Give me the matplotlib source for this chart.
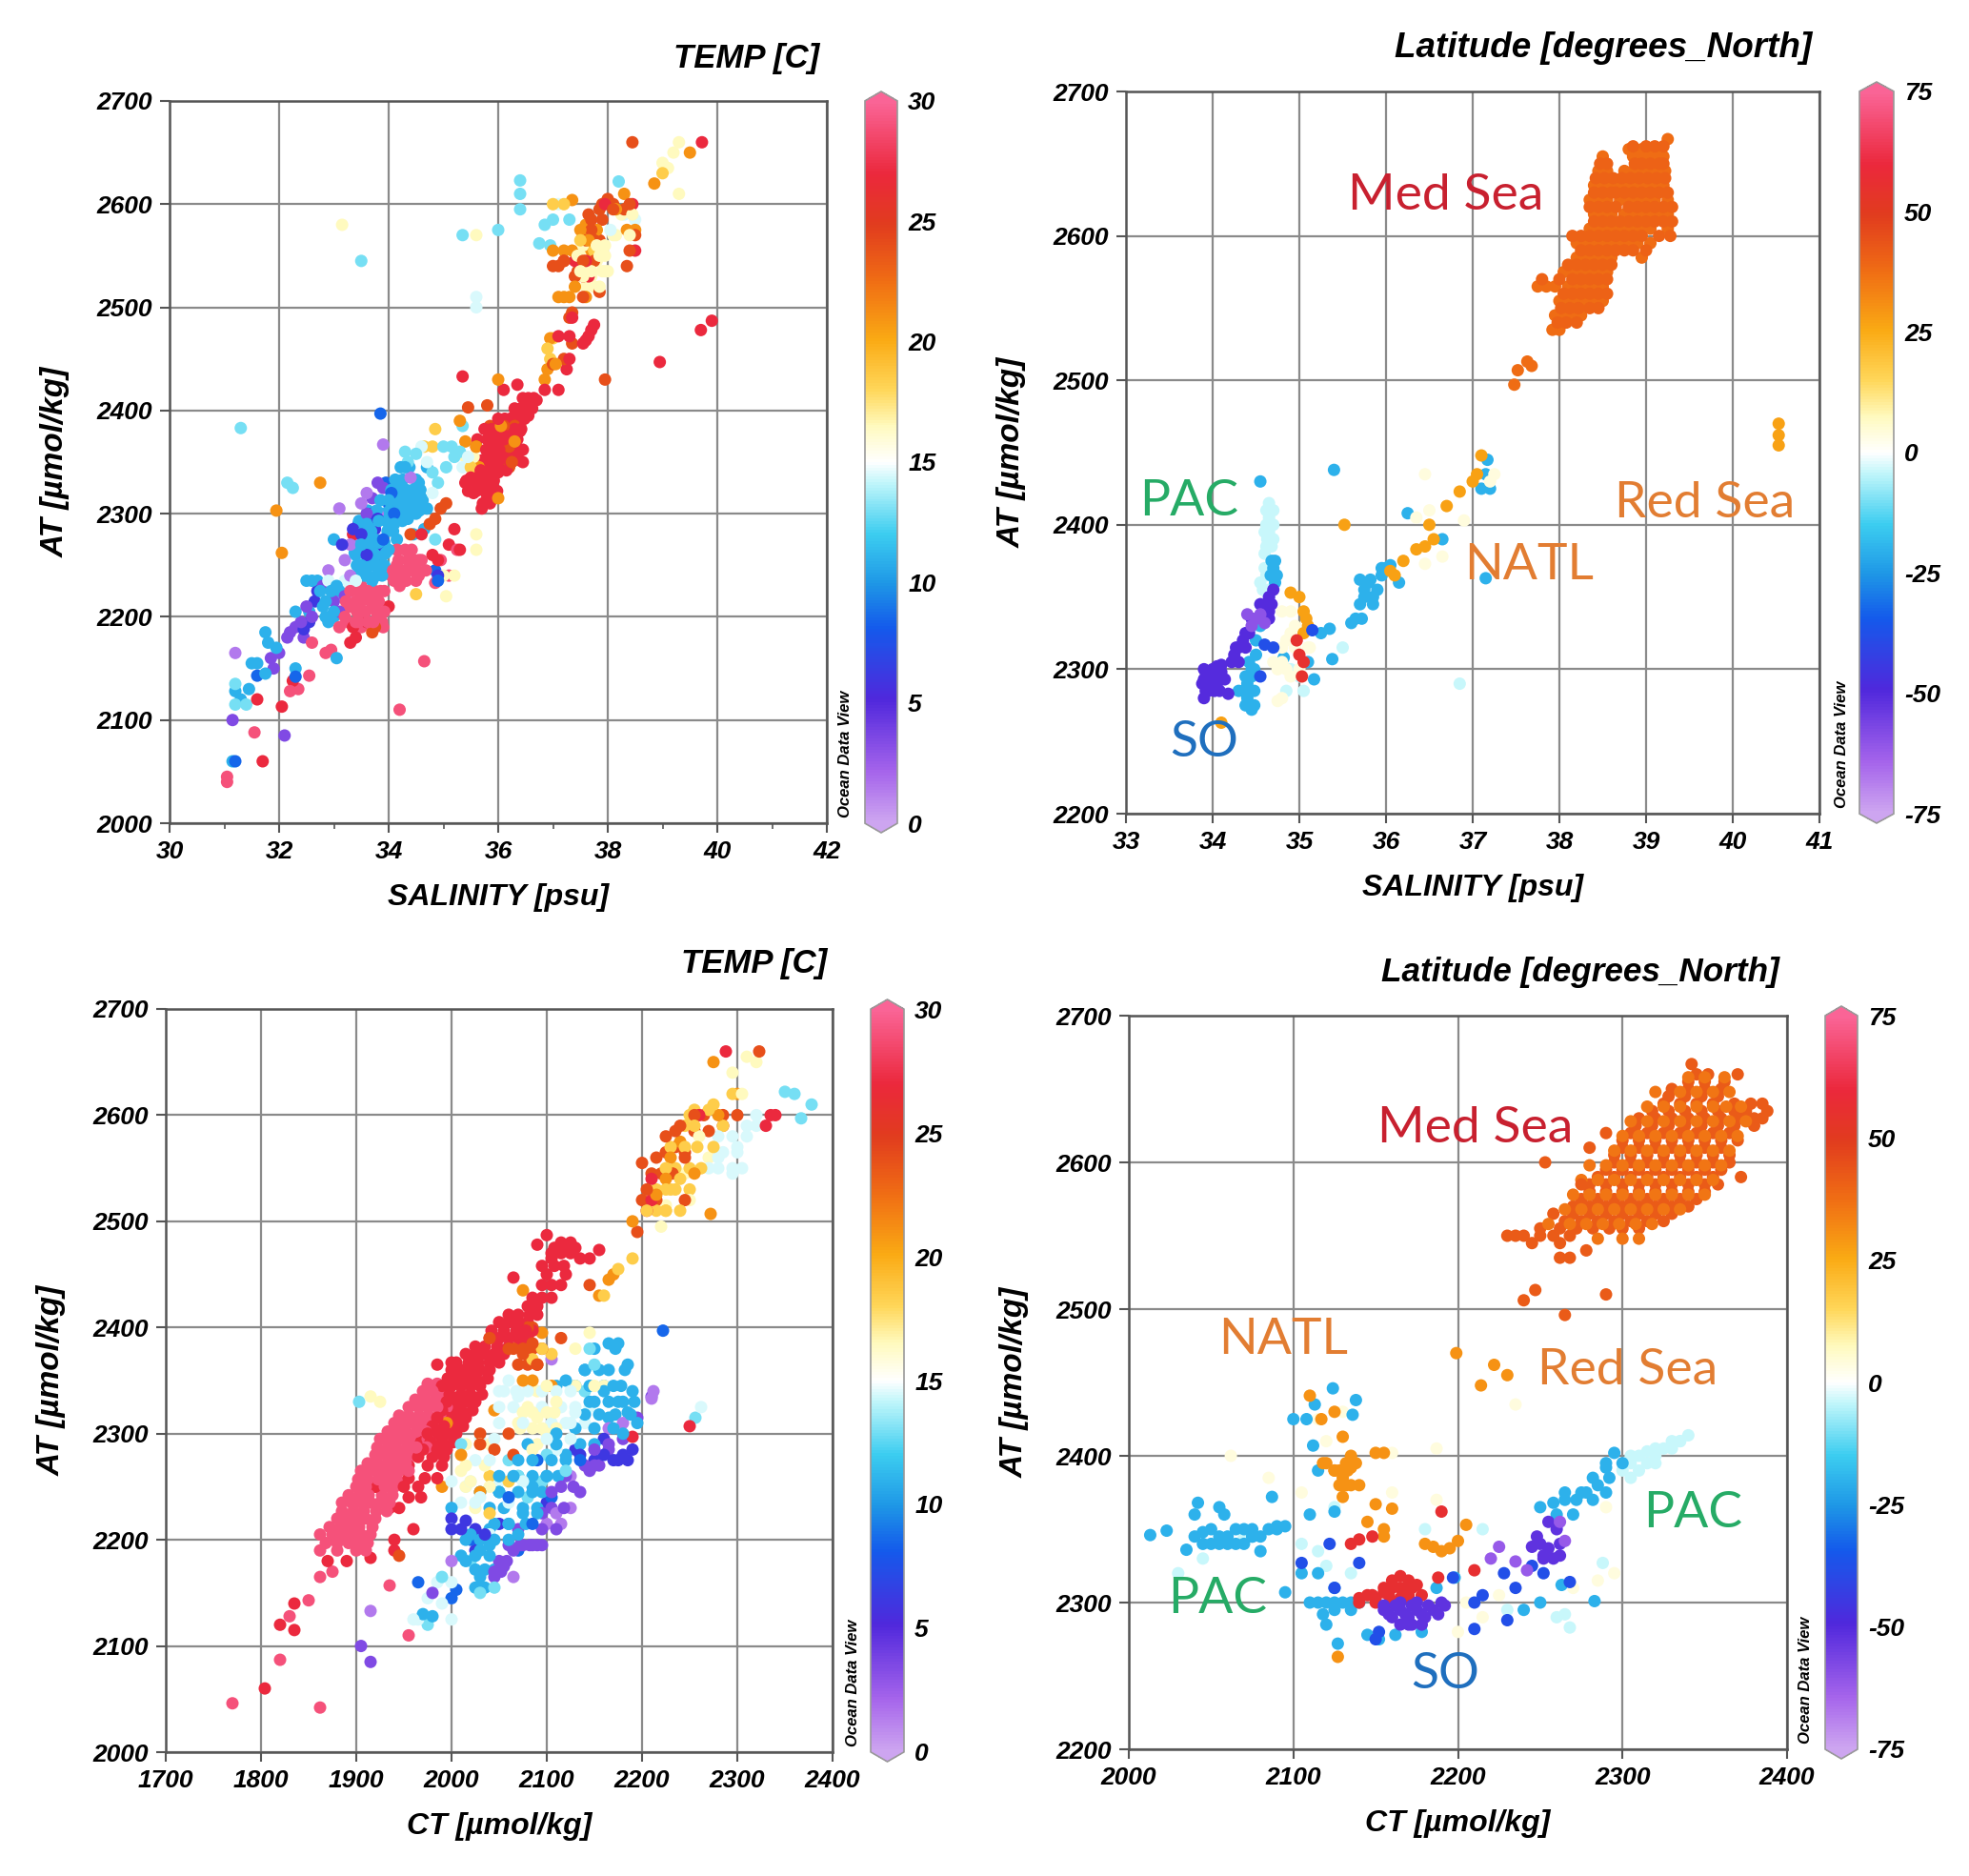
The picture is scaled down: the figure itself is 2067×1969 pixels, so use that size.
import matplotlib
matplotlib.use("Agg")
import matplotlib.pyplot as plt
from matplotlib.colors import LinearSegmentedColormap, Normalize

W, H = 2067, 1969
plt.rcParams["font.family"] = ["Liberation Sans", "DejaVu Sans"]
plt.rcParams["font.weight"] = "bold"
plt.rcParams["font.style"] = "italic"
plt.rcParams["axes.labelweight"] = "bold"
plt.rcParams["axes.unicode_minus"] = False

odv = LinearSegmentedColormap.from_list("odv", [
    (0.00, (205/255, 165/255, 240/255)), (0.07, (165/255, 100/255, 235/255)),
    (0.17, (80/255, 40/255, 220/255)), (0.27, (20/255, 90/255, 235/255)),
    (0.33, (30/255, 150/255, 230/255)), (0.40, (60/255, 205/255, 240/255)),
    (0.47, (190/255, 245/255, 250/255)), (0.50, (1, 1, 1)),
    (0.55, (1, 250/255, 190/255)), (0.60, (1, 215/255, 90/255)),
    (0.67, (250/255, 170/255, 20/255)), (0.75, (240/255, 110/255, 20/255)),
    (0.83, (225/255, 60/255, 30/255)), (0.90, (235/255, 40/255, 60/255)),
    (1.00, (250/255, 100/255, 150/255))], N=256)


def rows(table):
    return [(x, at) for at, xs in table.items() for x in xs]


# top left: salinity / AT coloured by temperature
a_lilac = [(31.2,2165),(33.1,2305),(33.9,2367),(33.3,2270),(33.2,2255),(33.3,2240),(33.4,2280),(32.9,2245),(32.7,2225),(33.5,2310),(33.6,2320),(33.8,2300),(34.4,2335)]
a_purple = [(31.15,2100),(32.1,2085),(31.9,2150),(32.0,2165),(31.85,2160),(32.2,2185),(32.4,2195),(32.3,2190),(32.5,2210),(32.6,2200),(33.0,2215),(33.2,2220),(33.1,2205),(33.7,2315),(33.8,2330),(33.9,2325),(33.5,2285),(33.6,2300),(32.8,2230),(32.15,2180),(32.45,2180)]
a_indigo = [(32.45,2188),(32.55,2195),(32.65,2215),(33.15,2270),(33.35,2285),(33.45,2290),(33.5,2280),(33.75,2285),(33.85,2270),(33.8,2295),(34.9,2240),(32.7,2225),(33.6,2260)]
a_blue = [(33.85,2397),(31.2,2060),(31.6,2143),(32.3,2142),(34.85,2245),(34.9,2235),(33.7,2300),(33.95,2330),(34.0,2310),(33.9,2275),(33.75,2255),(34.05,2320),(34.1,2300)]
a_sky = [(31.2,2128),(31.45,2130),(31.15,2060),(31.3,2120),(31.5,2155),(31.6,2155),(31.75,2145),(32.3,2150),(31.75,2185),(31.8,2175),(31.95,2170),(32.6,2235),(32.5,2235),(32.7,2235),(32.3,2205),(32.55,2205),(32.8,2210),(32.9,2195),(32.85,2215),(33.0,2205),(33.05,2230),(33.0,2275),(33.4,2260),(33.5,2250),(33.6,2240),(33.7,2235),(33.5,2270),(33.65,2280),(33.75,2260),(33.85,2245),(33.9,2260),(34.0,2265),(34.1,2290),(34.2,2300),(34.3,2310),(34.4,2320),(34.5,2300),(34.25,2325),(34.3,2345),(34.55,2330),(34.6,2315),(34.7,2305),(34.45,2280),(34.65,2285),(34.15,2275),(33.6,2290),(33.9,2300),(34.0,2285),(34.35,2295),(33.45,2240),(33.75,2275),(33.05,2160)]
a_sky_fill = rows({2240:[33.45,33.55,33.62,33.78,33.88],2250:[33.42,33.58,33.68,33.8,33.92],2262:[33.38,33.52,33.63,33.72,33.83,33.95],2272:[33.48,33.6,33.7,33.82,33.92],2283:[33.55,33.68,33.98,34.08],2293:[33.46,33.7,33.82,33.96,34.12,34.25],2303:[33.62,33.78,34.02,34.18,34.28,34.42,34.56],2313:[33.85,34.0,34.12,34.25,34.36,34.48,34.62],2323:[34.05,34.18,34.32,34.44,34.58],2333:[34.12,34.26,34.5],2345:[34.22,34.38,34.7],2225:[32.75,32.95,33.1],2200:[32.85,32.95,33.0]})
a_cyan = [(31.3,2383),(33.5,2545),(36.4,2623),(36.4,2610),(36.4,2595),(35.35,2570),(36.0,2575),(36.95,2560),(36.75,2562),(36.85,2580),(37.0,2585),(37.3,2585),(38.2,2622),(32.15,2330),(32.25,2325),(34.3,2360),(35.0,2365),(35.15,2365),(35.35,2385),(34.8,2340),(35.05,2345),(31.2,2115),(31.4,2115),(31.2,2135),(34.85,2275),(34.35,2350),(34.5,2358),(35.2,2355),(35.3,2360),(34.9,2330)]
a_pale = [(35.6,2510),(35.6,2500),(32.9,2235),(33.2,2235),(33.4,2235),(34.8,2320),(34.7,2350),(34.6,2365),(37.7,2590),(37.1,2600),(37.7,2560),(38.05,2575),(38.3,2590),(38.5,2585),(35.35,2345),(35.45,2355)]
a_cream = [(39.0,2640),(39.2,2650),(39.3,2610),(39.1,2635),(39.3,2660),(37.6,2540),(37.7,2530),(37.5,2550),(37.8,2545),(37.9,2535),(37.85,2520),(37.55,2530),(35.6,2280),(35.6,2265),(35.6,2570),(35.05,2220),(35.0,2240),(33.15,2580),(35.2,2240)]
a_cream_fill = rows({2550:[37.45,37.65,37.85,37.95],2535:[37.5,37.7,37.95,38.0],2560:[37.55,37.8,37.95],2520:[37.6,37.75],2570:[38.1,38.15,38.4],2590:[38.25,38.45],2355:[35.4,35.55]})
a_yellow = [(34.85,2382),(34.65,2365),(34.8,2365),(35.5,2345),(35.6,2330),(37.2,2600),(37.0,2600),(39.0,2630),(37.5,2565),(34.5,2222),(37.0,2470),(36.9,2460),(36.95,2450),(37.75,2555)]
a_orange = [(32.75,2330),(31.95,2303),(32.05,2262),(37.35,2604),(39.5,2650),(38.85,2620),(38.3,2610),(37.6,2580),(37.65,2565),(37.55,2570),(36.9,2440),(36.85,2430),(37.05,2445),(36.95,2470),(36.0,2430),(35.65,2345),(35.6,2365),(35.4,2370),(35.3,2390),(36.4,2385),(36.05,2385),(36.3,2370),(36.0,2315),(37.4,2520),(37.3,2510)]
a_orange_fill = rows({2575:[37.5,37.62,37.8,38.35,38.5],2555:[37.0,37.2,37.35,37.62],2595:[38.15,38.4],2510:[37.1,37.2,37.6]})
a_red_orange = [(38.45,2660),(37.95,2430),(37.1,2540),(35.45,2403),(35.8,2405),(34.75,2290),(34.85,2295),(34.95,2305),(35.05,2310),(34.4,2280),(37.35,2495),(37.3,2490),(37.0,2540),(37.65,2590),(37.7,2575),(37.9,2600),(38.0,2605),(38.1,2600),(38.4,2600),(38.5,2570),(38.4,2555),(38.35,2540),(37.85,2515),(37.45,2535),(37.2,2545),(37.55,2510),(37.35,2465),(37.2,2450),(37.0,2445),(33.7,2185),(33.75,2190),(36.2,2345)]
a_red_orange_fill = rows({2530:[37.4,37.55],2545:[37.2,37.55,37.75],2565:[37.6,37.75,37.85],2585:[37.7,37.9],2595:[37.85,38.1,38.3],2385:[35.85,36.1,36.3],2365:[35.6,36.2],2350:[36.25]})
a_pink = [(31.05,2045),(31.05,2040),(31.55,2088),(34.2,2110),(34.65,2157),(32.2,2128),(32.35,2130),(32.55,2143),(32.85,2165),(32.95,2168),(32.6,2175),(33.1,2190),(33.2,2200),(33.3,2210),(33.4,2215),(33.5,2205),(33.6,2220),(33.7,2210),(33.8,2200),(33.5,2190),(33.85,2225),(33.4,2195),(33.3,2225),(33.9,2190),(34.05,2240),(34.15,2250),(34.25,2240),(34.35,2255),(34.45,2245),(34.55,2240),(34.2,2230),(34.6,2255),(34.3,2265),(34.85,2233),(34.95,2255),(35.1,2240),(35.25,2265),(33.5,2230)]
a_pink_fill = rows({2195:[33.25,33.45,33.62,33.72,33.88],2205:[33.15,33.42,33.58,33.78,33.92],2215:[33.22,33.5,33.68,33.82],2225:[33.45,33.62,33.75,33.92],2235:[34.1,34.32,34.5],2245:[34.08,34.28,34.38,34.52,34.68],2255:[34.18,34.45,34.55],2265:[34.15,34.42]})
a_red = [(39.72,2660),(39.9,2487),(39.7,2478),(38.95,2447),(35.35,2433),(36.35,2425),(36.1,2420),(36.45,2400),(36.5,2410),(36.55,2395),(36.6,2405),(36.7,2410),(36.4,2380),(36.3,2395),(36.1,2390),(36.15,2375),(36.05,2370),(35.95,2360),(35.85,2350),(35.75,2340),(35.65,2325),(35.5,2335),(35.55,2320),(35.4,2330),(36.1,2350),(36.3,2355),(36.45,2350),(35.9,2330),(35.8,2315),(36.0,2340),(35.7,2305),(35.85,2375),(37.75,2483),(37.7,2478),(37.65,2472),(37.6,2468),(37.55,2465),(37.3,2450),(37.25,2440),(37.1,2420),(36.85,2420),(37.1,2472),(37.3,2472),(37.35,2490),(38.5,2555),(38.45,2600),(33.35,2280),(31.6,2120),(31.7,2060),(32.05,2113),(32.25,2138),(34.0,2210),(33.4,2180),(33.35,2190),(33.6,2195),(33.3,2175),(35.2,2285),(35.1,2270),(35.3,2265),(34.9,2255),(34.8,2260),(34.6,2280),(37.6,2545),(37.4,2545),(37.65,2530),(37.95,2600)]
a_red_fill = rows({2310:[35.72,35.85],2322:[35.45,35.6,35.75,35.9,35.98],2332:[35.42,35.52,35.62,35.72,35.82,35.92],2342:[35.58,35.68,35.8,35.9,36.02,36.15],2352:[35.72,35.85,35.98,36.08,36.2,36.38],2362:[35.78,35.92,36.02,36.12,36.22,36.36,36.45],2372:[35.62,35.8,35.9,36.0,36.1,36.25,36.35],2382:[35.75,35.88,35.98,36.08,36.18,36.3,36.42],2392:[36.0,36.12,36.22,36.35,36.48],2402:[36.3,36.42,36.55,36.62],2412:[36.45,36.55,36.65]})
a_groups = [(1.5,a_lilac),(3.5,a_purple),(11,a_sky),(11,a_sky_fill),(6,a_indigo),(8.5,a_blue),(13,a_cyan),(14.5,a_pale),(29,a_pink),(29,a_pink_fill),(27,a_red),(27,a_red_fill),(24,a_red_orange),(24,a_red_orange_fill),(21,a_orange),(21,a_orange_fill),(18.5,a_yellow),(16.5,a_cream),(16.5,a_cream_fill)]

# top right: salinity / AT coloured by latitude
b_med = rows({2535:[37.92,38.0],2545:[37.95,38.05,38.15,38.25],2555:[38.0,38.1,38.2,38.3,38.4,38.5],2565:[37.75,37.85,37.95,38.1,38.2,38.3,38.4,38.5],
    2575:[38.05,38.15,38.25,38.35,38.45,38.55],2585:[38.2,38.3,38.4,38.5,38.6,38.95],2595:[38.2,38.3,38.4,38.5,38.6,38.7,38.8,38.9,39.05],
    2605:[38.35,38.45,38.55,38.65,38.75,38.85,38.95,39.05,39.25],2615:[38.4,38.5,38.6,38.75,38.85,38.95,39.05,39.15,39.25],
    2625:[38.35,38.45,38.55,38.7,38.8,38.9,39.0,39.1,39.25],2635:[38.4,38.5,38.6,38.7,38.8,38.9,39.0,39.1,39.2],
    2645:[38.45,38.55,38.75,38.85,38.95,39.05,39.15,39.22],2655:[38.5,38.85,38.95,39.05,39.15,39.2],2660:[38.8,38.95,39.1],2667:[39.25]})
b_med2 = rows({2540:[37.98,38.08,38.2],2550:[38.02,38.12,38.22,38.35,38.45],2560:[38.05,38.15,38.25,38.35,38.45,38.55],2570:[37.8,38.0,38.15,38.25,38.35,38.45,38.55],2580:[38.1,38.2,38.3,38.4,38.5,38.6],2590:[38.25,38.35,38.45,38.55,38.65,38.75,38.85,39.0],2600:[38.15,38.25,38.35,38.45,38.55,38.65,38.75,38.85,38.95,39.15,39.28],2610:[38.4,38.5,38.6,38.7,38.8,38.9,39.0,39.1,39.2,39.3],2620:[38.35,38.45,38.55,38.65,38.8,38.9,39.0,39.1,39.2,39.3],2630:[38.4,38.5,38.6,38.65,38.75,38.85,38.95,39.05,39.15,39.25],2640:[38.42,38.52,38.62,38.72,38.82,38.92,39.02,39.12,39.22],2650:[38.47,38.55,38.87,38.95,39.05,39.15,39.2],2662:[38.85,39.0,39.1,39.2]})
b_med_out = [(37.48,2497),(37.52,2507),(37.63,2513),(37.68,2510)]
b_spike = [(34.65,2415),(34.65,2405),(34.65,2395),(34.68,2385),(34.6,2380),(34.7,2375),(34.62,2365),(34.65,2350),(34.6,2340),(34.7,2400),(34.6,2395)]
b_spike2 = rows({2410:[34.62,34.7],2400:[34.62,34.68],2390:[34.63,34.7],2370:[34.6,34.68],2355:[34.58,34.65],2345:[34.55,34.62],2330:[34.5]})
b_cyan = [(34.55,2430),(35.4,2438),(34.4,2290),(34.4,2280),(34.45,2272),(34.35,2285),(34.45,2295),(34.42,2305),(34.5,2320),(34.5,2310),(34.55,2330),(34.7,2370),(34.72,2360),(35.25,2325),(35.35,2328),(35.6,2332),(35.7,2345),(35.75,2355),(35.8,2360),(35.85,2345),(35.9,2355),(35.95,2365),(36.0,2370),(36.05,2372),(36.15,2360),(36.25,2408),(36.65,2390),(37.15,2363),(37.1,2425),(37.2,2425),(37.15,2435),(37.17,2445),(35.38,2307),(35.17,2293),(35.1,2305),(34.82,2308)]
b_cyan2 = rows({2375:[34.68,34.72],2365:[34.67,34.74],2275:[34.38,34.42,34.48],2285:[34.3,34.42,34.48],2295:[34.38,34.42],2300:[34.45,34.48],2335:[35.65,35.72],2350:[35.75,35.85],2362:[35.7,35.82],2370:[35.95,36.0]})
b_pale = [(36.85,2290),(35.5,2315),(35.05,2285),(34.85,2285),(34.9,2300),(35.0,2295),(34.55,2360),(34.62,2385)]
b_cream = [(36.45,2435),(36.45,2373),(36.65,2378),(36.9,2403),(37.2,2430),(37.25,2435),(36.35,2405),(34.8,2280),(34.75,2278),(34.9,2295),(34.8,2305),(34.85,2320),(34.95,2330),(35.1,2315),(34.7,2305),(36.5,2410)]
b_cream2 = rows({2300:[34.75,34.85,35.0],2315:[34.8,34.95,35.12],2325:[34.9,35.05],2340:[34.8,34.9]})
b_indigo = [(33.9,2300),(33.95,2295),(34.0,2300),(34.05,2290),(34.1,2295),(34.1,2303),(33.95,2285),(33.9,2280),(34.0,2290),(33.88,2290),(34.05,2302),(34.18,2283),(34.25,2310),(34.3,2315),(34.35,2320),(34.4,2325),(34.45,2335),(34.65,2340),(34.7,2355),(34.65,2350)]
b_indigo2 = rows({2285:[33.92,34.02,34.08],2293:[33.9,33.98,34.08,34.14],2298:[33.92,34.02,34.1],2305:[34.22,34.3],2315:[34.27,34.38],2325:[34.38,34.42],2345:[34.55,34.62,34.68],2335:[34.62,34.65]})
b_purple = [(34.4,2338),(34.45,2330),(34.5,2335),(34.55,2338),(34.6,2332)]
b_blue = [(34.55,2295),(34.6,2317),(34.7,2315),(35.15,2327)]
b_red = [(34.97,2320),(35.0,2310),(35.05,2305),(35.03,2295)]
b_orange = [(35.05,2340),(35.08,2335),(35.1,2330),(35.05,2325),(34.9,2353),(35.0,2350),(35.52,2400),(37.1,2448),(37.0,2430),(37.05,2435),(36.85,2423),(36.7,2413),(36.5,2400),(36.55,2390),(36.45,2385),(36.35,2383),(36.2,2375),(36.1,2365),(36.05,2368),(40.53,2470),(40.53,2462),(40.53,2455),(34.1,2263)]
b_groups = [(-4,b_pale),(-4,b_spike),(-4,b_spike2),(-20,b_cyan),(-20,b_cyan2),(4,b_cream),(4,b_cream2),(27,b_orange),(-50,b_indigo),(-50,b_indigo2),(-60,b_purple),(-38,b_blue),(55,b_red),(38,b_med),(40,b_med2),(38,b_med_out)]

# bottom left: CT / AT coloured by temperature
c_pink = rows({2190:[1862,1880,1900,1910],2205:[1862,1875,1885,1895,1905,1915],2220:[1880,1890,1900,1910,1920],2235:[1885,1895,1905,1915,1925,1935],
    2250:[1900,1910,1920,1930,1940],2265:[1905,1915,1925,1935,1945,1955],2280:[1920,1930,1940,1950,1960],2295:[1925,1935,1945,1955,1965,1975],
    2310:[1940,1950,1960,1970,1980],2325:[1955,1965,1975,1985,1995],2340:[1970,1980,1990]})
c_pink2 = rows({2197:[1868,1880,1892,1902,1912],2212:[1872,1883,1893,1903,1917],2227:[1885,1897,1908,1921,1932],2242:[1892,1903,1913,1927,1938],2257:[1902,1912,1923,1933,1943],2272:[1912,1922,1933,1943,1952],2287:[1922,1933,1942,1953,1963,1974],2302:[1933,1943,1952,1963,1973,1983],2317:[1945,1955,1966,1976,1988],2332:[1962,1972,1983,1993],2347:[1975,1985]})
c_pink_out = [(1770,2046),(1862,2042),(1820,2087),(1955,2110),(1935,2157),(1850,2143),(1830,2128),(1862,2165),(1875,2170)]
c_red = rows({2230:[1935,1945],2250:[1950,1965,1920],2270:[1955,1975,1990],2285:[1960,1970,1985,1995],2300:[1975,1985,1995,2005],2315:[1985,1995,2005,2015],
    2330:[1995,2005,2015,2025],2345:[1990,2000,2010,2020,2030],2360:[2000,2010,2020,2030,2040],2375:[2015,2025,2035,2045,2055],2390:[2040,2050,2060,2070,2080],
    2405:[2050,2060,2070,2080],2420:[2080,2090],2440:[2095,2105,2115],2450:[2100,2120],2470:[2105,2115,2125],2480:[2115,2125],2465:[2105,2135,2145]})
c_red2 = rows({2240:[1955,1968],2258:[1955,1972,1985],2278:[1965,1980,1992],2292:[1968,1978,1990,2002],2307:[1980,1992,2002,2012],2322:[1990,2000,2010,2022],2337:[1998,2010,2020,2032],2352:[1996,2006,2016,2026,2038],2367:[2005,2018,2028,2040,2050],2382:[2025,2035,2048,2060,2072],2397:[2042,2055,2068,2078,2085],2412:[2060,2070,2082,2090],2428:[2085,2095,2105],2458:[2095,2108,2118],2475:[2108,2118,2130]})
c_red_out = [(1804,2060),(1835,2115),(1835,2140),(1820,2120),(1960,2210),(1915,2183),(1940,2190),(2250,2307),(2288,2660),(2340,2600),(2335,2600),(2330,2590),(2260,2600),(2190,2297),(2155,2473),(2090,2478),(2100,2487),(2065,2447),(1985,2365),(2000,2367),(1870,2180),(1890,2180),(1940,2200),(2210,2540),(2210,2520),(2205,2510)]
c_red_orange = [(2323,2660),(2040,2390),(2060,2300),(2030,2300),(1945,2185),(2090,2365),(2085,2385),(2060,2380),(2075,2375),(2115,2390),(2145,2440),(2045,2285),(2065,2280),(2245,2520),(2255,2600),(2240,2590),(2225,2580),(2215,2560),(2200,2555),(2205,2530),(2195,2490),(2235,2570),(2285,2590),(2220,2545),(2245,2560)]
c_red_orange2 = rows({2520:[2200,2215],2545:[2210,2232],2565:[2225,2245],2585:[2235,2255,2270],2600:[2265,2285,2300],2380:[2065,2075,2085,2095],2365:[2070,2080,2090],2400:[2080,2085],2290:[2030]})
c_orange = [(2275,2650),(2272,2507),(2045,2322),(2075,2435),(2155,2430),(2165,2445),(2170,2450),(2095,2395),(2085,2350),(2105,2345),(2075,2350),(2010,2280),(1990,2250),(1995,2310),(2030,2245),(2190,2500),(2215,2525),(2225,2540),(2230,2560),(2240,2575),(2255,2545),(2300,2620),(2280,2600)]
c_gold = [(2160,2430),(2175,2455),(2190,2465),(2095,2380),(2085,2370),(2105,2375),(2040,2225),(2040,2260),(2060,2255),(2225,2510),(2230,2530),(2240,2540),(2250,2600),(2275,2610),(2295,2620)]
c_gold2 = rows({2510:[2205,2215,2225,2240],2530:[2215,2225,2235,2250],2550:[2225,2235,2250,2262],2570:[2230,2245,2258,2275],2590:[2245,2255,2285],2605:[2255,2270]})
c_cream = [(1915,2335),(1925,2330),(2080,2325),(2090,2315),(2100,2300),(2070,2310),(2090,2340),(2110,2330),(2085,2285),(2010,2265),(2020,2255),(2040,2290),(2160,2345),(2295,2640),(2310,2655),(2320,2650),(2305,2620),(2260,2580),(2270,2560),(2250,2520),(2225,2515),(2220,2495),(2245,2545),(2145,2395),(2130,2380)]
c_cream2 = rows({2320:[2075,2085,2100,2108],2305:[2072,2085,2095,2110],2290:[2015,2030,2090],2270:[2015,2035],2250:[2040,2015],2345:[2100,2150,2130],2230:[2025]})
c_pale = [(2060,2350),(2070,2335),(2050,2340),(2120,2310),(2130,2320),(2110,2285),(2015,2250),(2000,2210),(1965,2125),(1990,2140),(2280,2560),(2295,2545),(2300,2570),(2310,2590),(2280,2580),(2320,2600),(2262,2325),(2030,2240),(2040,2205)]
c_pale2 = rows({2340:[2055,2068,2080,2095,2110,2125],2325:[2050,2065,2095,2115,2130,2145],2310:[2050,2075,2105,2125,2140],2295:[2030,2045,2100,2125],2275:[2025,2040,2090],2255:[2000,2020,2050,2075],2235:[2010,2025,2060],2160:[1985,2000],2145:[1975,2000],2125:[2000,1960],2550:[2280,2295,2305,2270],2565:[2285,2300],2580:[2295,2310],2590:[2320]})
c_cyan = [(1903,2330),(2350,2622),(2360,2620),(2378,2610),(2367,2597),(2256,2315),(2145,2380),(2140,2340),(2150,2365),(2010,2290),(2060,2275),(2070,2260),(2100,2280),(1975,2120),(1990,2165),(2020,2180),(2030,2150),(2045,2155),(2080,2240),(2095,2255),(2120,2265)]
c_sky = [(2165,2385),(2175,2385),(2185,2365),(2170,2345),(2155,2360),(2145,2330),(2160,2340),(2175,2330),(2185,2320),(2190,2340),(2165,2315),(2180,2300),(2195,2310),(2140,2360),(2120,2350),(2110,2345),(2070,2260),(2050,2245),(2060,2215),(2075,2225),(2085,2250),(2030,2165),(2030,2155),(2040,2195),(2020,2205),(2015,2180),(2030,2190),(1970,2130),(1980,2128),(2000,2230),(2120,2280),(2100,2260),(2090,2225),(2040,2210),(2070,2205),(2110,2300)]
c_sky2 = rows({2380:[2150,2172],2360:[2140,2165,2182],2345:[2130,2145,2160,2178],2330:[2150,2165,2180,2192],2318:[2140,2155,2172,2188],2305:[2130,2150,2170],2290:[2080,2110,2135,2150],2275:[2070,2085,2105,2120],2260:[2050,2065,2085,2100,2112],2245:[2030,2050,2070,2085,2095],2230:[2040,2055,2075,2090],2215:[2045,2060,2078],2200:[2015,2030,2045,2060],2185:[2010,2025,2040],2172:[2025,2035,2045],2155:[2025,2035]})
c_blue = [(2222,2397),(1965,2160),(2000,2145),(2005,2153),(2105,2240),(2060,2240),(2085,2215),(2070,2190),(2020,2200),(2135,2275),(2090,2275)]
c_indigo = [(2000,2220),(2015,2218),(2025,2190),(2035,2205),(2050,2215),(2130,2285),(2150,2275),(2170,2275),(2190,2285),(2100,2235),(2160,2295),(2180,2280)]
c_indigo2 = rows({2210:[2000,2010,2025],2200:[2025],2280:[2135,2160],2275:[2175,2185]})
c_purple = [(1905,2100),(1915,2085),(1980,2150),(2045,2165),(2055,2175),(2065,2190),(2075,2195),(2085,2195),(2095,2195),(2105,2245),(2120,2260),(2135,2245),(2150,2270),(2165,2290),(2180,2295),(2195,2315),(2210,2335),(2145,2265),(2095,2225),(2070,2210)]
c_purple2 = rows({2195:[2060,2072,2082,2090],2210:[2095,2110],2230:[2105,2118],2250:[2115,2128],2270:[2140,2155],2285:[2150,2165],2180:[2050,2058],2170:[2045,2052]})
c_lilac = [(1915,2133),(2000,2180),(2065,2165),(2115,2215),(2110,2225),(2125,2230),(2100,2215),(2212,2340),(2210,2333),(2105,2370),(2125,2260),(2165,2305),(2180,2310)]
c_groups = [(1.5,c_lilac),(3.5,c_purple),(3.5,c_purple2),(11,c_sky),(11,c_sky2),(13,c_cyan),(14.5,c_pale),(14.5,c_pale2),(6,c_indigo),(6,c_indigo2),(8.5,c_blue),(16.5,c_cream),(16.5,c_cream2),(27,c_red2),(29,c_pink),(29,c_pink2),(29,c_pink_out),(27,c_red),(27,c_red_out),(24,c_red_orange),(24,c_red_orange2),(21,c_orange),(18.5,c_gold),(18.5,c_gold2)]

# bottom right: CT / AT coloured by latitude
d_med = rows({2535:[2262,2268],2540:[2278],2550:[2230,2235,2240,2250,2258,2268],2560:[2265,2275,2285,2295,2305,2315,2325],2570:[2270,2280,2290,2300,2310,2320,2330,2340],
    2580:[2280,2290,2300,2310,2320,2330,2340,2350],2590:[2285,2295,2305,2315,2325,2335,2345,2355,2372],2600:[2295,2305,2315,2325,2335,2345,2355,2365],
    2610:[2300,2310,2320,2330,2340,2350,2360,2280],2620:[2305,2315,2325,2335,2345,2355,2365,2290],2630:[2310,2320,2330,2340,2350,2360,2370,2385,2380],
    2640:[2325,2335,2345,2355,2368,2378,2385],2650:[2330,2340,2350,2360],2660:[2345,2352,2370],2667:[2342]})
d_med2 = rows({2545:[2245,2262],2555:[2250,2262,2272,2282,2292,2300,2310],2565:[2258,2270,2280,2290,2300,2310,2320,2330],2575:[2275,2285,2295,2305,2315,2325,2335,2345],2585:[2280,2290,2300,2310,2320,2330,2340,2350,2358],2595:[2290,2300,2310,2320,2330,2340,2350,2360],2605:[2295,2305,2315,2325,2335,2345,2355,2365],2615:[2300,2310,2320,2330,2340,2350,2360,2370],2625:[2308,2318,2328,2338,2348,2358,2368,2380],2635:[2318,2328,2338,2348,2358,2368,2375,2388],2645:[2328,2338,2348,2358],2655:[2340,2350,2362]})
d_med3 = rows({2548:[2285,2300,2310],2558:[2255,2268,2278,2288,2298,2308,2318],2568:[2265,2275,2285,2295,2305,2315,2325,2335],2578:[2270,2280,2290,2300,2310,2320,2330,2340,2350],2588:[2275,2285,2295,2305,2315,2325,2335,2345,2355],2598:[2280,2290,2300,2310,2320,2330,2340,2350,2360],2608:[2295,2305,2315,2325,2335,2345,2355,2365],2618:[2300,2310,2320,2330,2340,2350,2360,2370],2628:[2305,2315,2325,2335,2345,2355,2365,2375],2638:[2315,2325,2335,2345,2355,2363,2372],2648:[2320,2335,2345,2355,2365],2658:[2340,2350,2362]})
d_med_out = [(2240,2506),(2247,2513),(2265,2496),(2290,2510),(2253,2600),(2275,2585)]
d_red = [(2140,2303),(2145,2305),(2150,2303),(2155,2307),(2160,2310),(2165,2303),(2170,2305),(2175,2312),(2165,2318),(2172,2300),(2188,2317),(2190,2362),(2210,2322),(2135,2340),(2140,2343),(2148,2345)]
d_red2 = rows({2300:[2140,2150,2160],2305:[2148,2158,2168,2178],2310:[2155,2165,2172],2315:[2160,2170]})
d_orange = [(2199,2470),(2222,2462),(2230,2455),(2214,2448),(2110,2441),(2125,2430),(2130,2413),(2117,2425),(2118,2395),(2125,2390),(2130,2385),(2135,2392),(2130,2380),(2135,2400),(2140,2380),(2150,2402),(2155,2402),(2130,2372),(2150,2367),(2160,2364),(2145,2355),(2155,2350),(2185,2338),(2190,2335),(2195,2337),(2200,2342),(2205,2353),(2180,2340),(2127,2263),(2155,2345)]
d_orange2 = rows({2390:[2125,2128,2133],2380:[2128,2132,2135],2395:[2120,2132,2138]})
d_cream = [(2062,2400),(2085,2385),(2115,2425),(2187,2405),(2160,2402),(2105,2375),(2160,2375),(2187,2370),(2290,2365),(2270,2310),(2285,2315),(2295,2320),(2225,2305),(2205,2300),(2215,2290),(2235,2435),(2130,2430),(2200,2280),(2170,2310),(2120,2410)]
d_pale = [(2030,2320),(2045,2330),(2070,2345),(2105,2340),(2115,2335),(2120,2325),(2135,2320),(2215,2350),(2230,2295),(2260,2290),(2265,2292),(2268,2283),(2288,2327),(2305,2400),(2315,2403),(2325,2405),(2335,2410),(2340,2414),(2320,2395),(2300,2390),(2305,2385),(2180,2350),(2125,2365)]
d_pale2 = rows({2400:[2310,2320],2395:[2305,2315],2405:[2330,2320],2410:[2335,2330],2390:[2310]})
d_sky = [(2013,2346),(2023,2349),(2035,2336),(2040,2360),(2042,2368),(2045,2348),(2050,2350),(2045,2340),(2055,2340),(2055,2365),(2058,2360),(2060,2345),(2065,2340),(2070,2350),(2075,2345),(2080,2335),(2085,2350),(2090,2352),(2087,2372),(2095,2352),(2100,2425),(2108,2425),(2113,2435),(2124,2446),(2138,2438),(2136,2428),(2112,2407),(2115,2390),(2110,2360),(2125,2362),(2105,2320),(2095,2307),(2110,2300),(2120,2300),(2130,2300),(2140,2300),(2115,2320),(2125,2310),(2118,2292),(2120,2285),(2127,2272),(2145,2278),(2152,2275),(2162,2278),(2178,2280),(2250,2365),(2258,2368),(2265,2370),(2275,2375),(2285,2380),(2290,2392),(2295,2402),(2240,2295),(2250,2300),(2263,2312),(2283,2301),(2187,2310),(2198,2317)]
d_sky2 = rows({2360:[2260,2270],2370:[2272,2282],2375:[2265,2278,2290],2385:[2282,2292],2395:[2290,2300],2340:[2050,2060,2070],2345:[2040,2055,2075,2080],2350:[2065,2075,2090],2300:[2115,2125,2135],2295:[2125,2135]})
d_blue = [(2105,2327),(2122,2340),(2140,2327),(2152,2280),(2150,2275),(2197,2317),(2210,2282),(2210,2300),(2215,2305),(2228,2320),(2230,2288),(2235,2310),(2245,2325),(2252,2320),(2268,2314),(2125,2310)]
d_indigo = [(2155,2295),(2160,2290),(2165,2295),(2170,2290),(2175,2295),(2170,2285),(2180,2290),(2185,2295),(2190,2300),(2165,2300),(2175,2300),(2255,2355),(2260,2350),(2262,2340),(2258,2330),(2250,2340),(2245,2338),(2252,2330),(2248,2345)]
d_indigo2 = rows({2285:[2165,2172,2178],2292:[2158,2168,2178,2188],2298:[2155,2162,2172,2182,2192],2332:[2252,2262],2337:[2255]})
d_purple = [(2225,2338),(2220,2330),(2235,2328),(2242,2322),(2262,2355),(2265,2342)]
d_groups = [(-4,d_pale),(-4,d_pale2),(4,d_cream),(-20,d_sky),(-20,d_sky2),(30,d_orange),(30,d_orange2),(-38,d_blue),(56,d_red),(56,d_red2),(-52,d_indigo),(-52,d_indigo2),(-62,d_purple),(42,d_med),(42,d_med2),(36,d_med3),(42,d_med_out)]

label_red = "#c8202f"
label_orange = "#e27d32"
label_green = "#26ab66"
label_blue = "#1f6fbe"
b_labels = [("Med Sea",36.69,2628,label_red),("Red Sea",39.68,2415,label_orange),("NATL",37.65,2372,label_orange),("PAC",33.73,2416,label_green),("SO",33.9,2249,label_blue)]
d_labels = [("Med Sea",2210.5,2623,label_red),("NATL",2094,2479,label_orange),("Red Sea",2303,2458,label_orange),("PAC",2343,2361,label_green),("PAC",2054,2302,label_green),("SO",2192.5,2251,label_blue)]

temp_ticks = [0, 5, 10, 15, 20, 25, 30]
lat_ticks = [-75, -50, -25, 0, 25, 50, 75]
fig = plt.figure(figsize=(W / 100, H / 100), dpi=100)


def px_axes(l, t, r, b):
    return fig.add_axes([l / W, 1 - b / H, (r - l) / W, (b - t) / H])


def panel(box, cbox, groups, xlim, ylim, xticks, xminor, yticks, xlabel, title, title_xy, title_size, cticks, odv_x, labels=(), mixed=False):
    ax = px_axes(*box)
    norm = Normalize(cticks[0], cticks[-1])
    pts = [(p[0], p[1], value) for value, group in groups for p in group]
    if mixed:
        # cruises are interleaved in the original, so no colour stays fully on top
        span_x = xlim[1] - xlim[0]
        pts.sort(key=lambda p: (round(p[0] / span_x * 7001) * 13 + round(p[1]) * 29) % 97)
    sc = ax.scatter([p[0] for p in pts], [p[1] for p in pts], c=[p[2] for p in pts], s=88,
                    cmap=odv, norm=norm, linewidths=0, zorder=3)
    ax.set_xlim(*xlim)
    ax.set_ylim(*ylim)
    ax.set_xticks(xticks)
    ax.set_xticks(xminor, minor=True)
    ax.set_yticks(yticks)
    ax.grid(True, color="#8a8a8a", lw=1.6, zorder=1)
    ax.set_axisbelow(True)
    for s in ax.spines.values():
        s.set_color("#555555")
        s.set_linewidth(1.8)
    ax.tick_params(which="major", length=7, width=1.5, color="#555555", labelsize=19, pad=6)
    ax.tick_params(which="minor", length=4, width=1.2, color="#555555")
    ax.set_xlabel(xlabel, fontsize=23, labelpad=15)
    ax.set_ylabel("AT [µmol/kg]", fontsize=24, labelpad=20)
    fig.text(title_xy[0] / W, 1 - title_xy[1] / H, title, fontsize=title_size, ha="right", va="center")
    fig.text(odv_x / W, 1 - box[3] / H + 6 / H, "Ocean Data View", fontsize=12, rotation=90, ha="center", va="bottom")
    for text, x, y, col in labels:
        ax.text(x, y, text, color=col, fontsize=38.5, family="Lato", weight="normal", style="normal",
                ha="center", va="center", zorder=5)
    cax = px_axes(*cbox)
    cb = fig.colorbar(sc, cax=cax, extend="both", extendfrac=0.013, ticks=cticks)
    cb.outline.set_edgecolor("#999999")
    cb.outline.set_linewidth(1.2)
    cb.cmap.set_over(odv(1.0))
    cb.cmap.set_under(odv(0.0))
    cax.tick_params(length=0, labelsize=19, pad=8)
    return ax


# colour bar boxes include the 10 px end caps
panel((178, 106, 868, 864), (908, 96, 942, 874), a_groups, (30, 42), (2000, 2700),
      [30, 32, 34, 36, 38, 40, 42], [31, 33, 35, 37, 39, 41], range(2000, 2701, 100),
      "SALINITY [psu]", "TEMP [C]", (860, 61), 25, temp_ticks, 888, mixed=True)
panel((1182, 96, 1910, 854), (1952, 86, 1988, 864), b_groups, (33, 41), (2200, 2700),
      range(33, 42), [], range(2200, 2701, 100),
      "SALINITY [psu]", "Latitude [degrees_North]", (1902, 51), 26.6, lat_ticks, 1934, b_labels)
panel((174, 1059, 874, 1839), (914, 1049, 949, 1849), c_groups, (1700, 2400), (2000, 2700),
      range(1700, 2401, 100), [], range(2000, 2701, 100),
      "CT [µmol/kg]", "TEMP [C]", (868, 1012), 25, temp_ticks, 895, mixed=True)
panel((1185, 1066, 1876, 1836), (1916, 1056, 1950, 1846), d_groups, (2000, 2400), (2200, 2700),
      range(2000, 2401, 100), [], range(2200, 2701, 100),
      "CT [µmol/kg]", "Latitude [degrees_North]", (1868, 1020), 25.3, lat_ticks, 1895, d_labels)

fig.savefig("out.png", dpi=100, facecolor="white")
